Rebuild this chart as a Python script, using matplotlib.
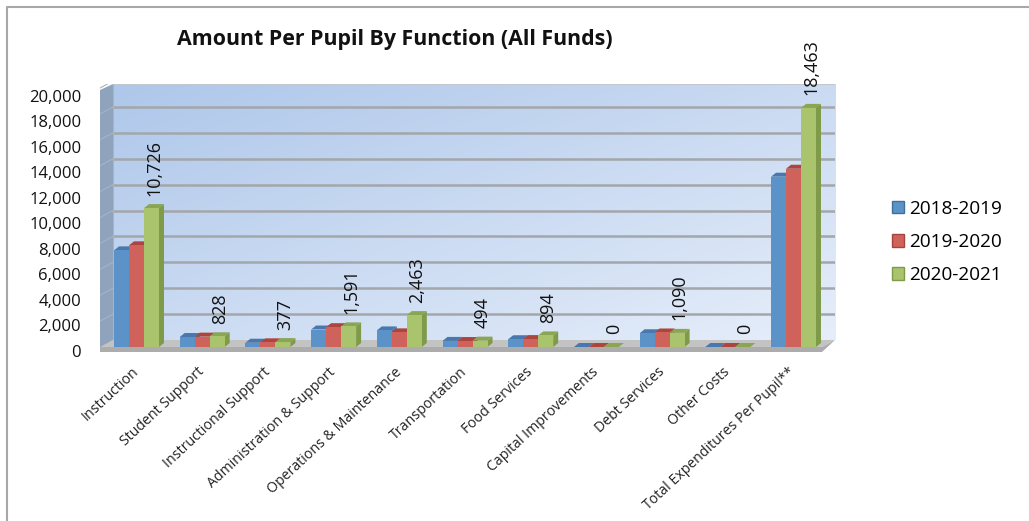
import numpy as np
import matplotlib.pyplot as plt
from matplotlib.patches import Polygon
from matplotlib.lines import Line2D
from matplotlib.transforms import ScaledTranslation

plt.rcParams['font.family'] = ['Open Sans', 'DejaVu Sans']

categories = ['Instruction', 'Student Support', 'Instructional Support',
              'Administration & Support', 'Operations & Maintenance',
              'Transportation', 'Food Services', 'Capital Improvements',
              'Debt Services', 'Other Costs', 'Total Expenditures Per Pupil**']
years = ['2018-2019', '2019-2020', '2020-2021']
values_2018 = [7460, 770, 330, 1350, 1280, 470, 600, 0, 1060, 0, 13150]
values_2019 = [7850, 800, 360, 1530, 1130, 460, 610, 0, 1120, 0, 13765]
values_2020 = [10726, 828, 377, 1591, 2463, 494, 894, 0, 1090, 0, 18463]
y_ticks = list(range(0, 20001, 2000))

front_colors = ['#5b93c9', '#cf625a', '#a9c46c']
top_colors = ['#4878ad', '#ad443e', '#8aa653']
side_colors = ['#47719f', '#9e3f3a', '#7f9a48']
edge_colors = ['#3f6f9f', '#a5443f', '#7f9a48']

# picture scale, pixels per category and per unit of value
px_x = 65.7
px_y = 0.01295
bar_w = 15 / px_x
dx, dy = 5 / px_x, 4 / px_y
wall_dx, wall_dy = 13 / px_x, 7 / px_y

fig = plt.figure(figsize=(10.29, 5.21), dpi=100)
ax = fig.add_axes([100 / 1029, (521 - 352) / 521, 735 / 1029, 268 / 521])
x0 = -36.5 / px_x
x1 = 698.5 / px_x
y0 = -5 / px_y
y1 = 263 / px_y
back_left = x0 + wall_dx
back_floor = wall_dy

# back wall gradient
gx, gy = np.meshgrid(np.linspace(0, 1, 200), np.linspace(0, 1, 120))
g = 0.5 * gx + 0.5 * gy
start = np.array([174, 199, 234]) / 255
end = np.array([230, 238, 250]) / 255
ax.imshow(start + g[..., None] * (end - start), aspect='auto', zorder=1,
          extent=[back_left, x1, back_floor, y1], origin='upper')

# left wall and floor
ax.add_patch(Polygon([[x0, y0 + 3 / px_y], [back_left, back_floor], [back_left, y1],
                      [x0, y1 - 6 / px_y]], color='#8fa3bd', lw=0, zorder=1))
ax.add_patch(Polygon([[x0, 0], [back_left, back_floor], [x1, back_floor],
                      [x1 - wall_dx, 0]], color='#c3c3c3', lw=0, zorder=1))
ax.add_patch(Polygon([[x0, y0], [x0, 0], [x1 - wall_dx, 0], [x1, back_floor],
                      [x1 - wall_dx, y0]], color='#acacac', lw=0, zorder=1))

# gridlines
for v in y_ticks[1:]:
    ax.plot([back_left, x1], [v + wall_dy, v + wall_dy], color='#a3a6aa', lw=1.8, zorder=2)
    ax.plot([x0, back_left], [v, v + wall_dy], color='#a7b3c4', lw=0.8, zorder=2)
ax.plot([back_left, x1], [y1, y1], color='#c4c7cc', lw=1.5, zorder=2)
ax.plot([back_left, back_left], [back_floor, y1], color='#a9b4c4', lw=0.8, zorder=2)

x = np.arange(len(categories))
all_values = [values_2018, values_2019, values_2020]
bars = []
for i, vals in enumerate(all_values):
    z = 3 + i
    pos = x + (i - 1) * bar_w
    b = ax.bar(pos, vals, width=bar_w, color=front_colors[i], edgecolor=edge_colors[i],
               lw=0, zorder=z + 0.5, label=years[i])
    bars.append(b)
    for p, v in zip(pos, vals):
        l, r = p - bar_w / 2, p + bar_w / 2
        ax.add_patch(Polygon([[l, v], [l + dx, v + dy], [r + dx, v + dy], [r, v]],
                             color=top_colors[i], lw=0, zorder=z))
        if v > 0:
            ax.add_patch(Polygon([[r, 0], [r + dx, dy], [r + dx, v + dy], [r, v]],
                                 color=side_colors[i], lw=0, zorder=z))

# data labels only on the last series
for p, v in zip(x + bar_w, values_2020):
    ax.annotate(f'{v:,}', (p, v), xytext=(2, 9), textcoords='offset points',
                rotation=90, ha='center', va='bottom', fontsize=13, color='#111111',
                zorder=10)

ax.set_xlim(x0, x1)
ax.set_ylim(y0, y1)
ax.set_xticks(x)
ax.set_xticklabels(categories, rotation=43, ha='right', va='top', rotation_mode='anchor',
                   fontsize=10.2, color='#222222')
ax.tick_params(axis='x', length=0, pad=9)
# pull the slanted labels back so they end under the group centre
shift = ScaledTranslation(-5 / 100, 0, fig.dpi_scale_trans)
for t in ax.get_xticklabels():
    t.set_transform(t.get_transform() + shift)
ax.set_yticks([])
for s in ax.spines.values():
    s.set_visible(False)

# y tick labels run on a slightly tighter scale than the bars
ax_t = ax.twinx()
ax_t.patch.set_visible(False)
ax_t.set_ylim(-1 / 0.01277, 267 / 0.01277)
ax_t.yaxis.tick_left()
ax_t.set_yticks(y_ticks)
ax_t.set_yticklabels([f'{v:,}' for v in y_ticks], fontsize=12, color='#111111')
ax_t.tick_params(axis='y', length=0, pad=13.5)
for s in ax_t.spines.values():
    s.set_visible(False)

fig.text(395 / 1029, 1 - 40 / 521, 'Amount Per Pupil By Function (All Funds)', ha='center',
         va='center', fontsize=15.4, fontweight='bold', color='#111111')

leg = fig.legend(handles=[b[0] for b in bars], labels=years, loc='upper left',
                 bbox_to_anchor=(888 / 1029, 1 - 196 / 521), frameon=False, fontsize=13.7,
                 handlelength=0.63, handleheight=0.63, handletextpad=0.3, labelspacing=0.8,
                 borderaxespad=0, borderpad=0.2)
for h, c in zip(leg.legend_handles, edge_colors):
    h.set_edgecolor(c)
    h.set_linewidth(1)

# outer chart border, runs off the right and bottom of the picture
fig.add_artist(Line2D([6.5 / 1029, 6.5 / 1029, 1], [0, 1 - 6.5 / 521, 1 - 6.5 / 521],
                      color='#a8a8a8', lw=1.5))

fig.savefig('out.png', dpi=100)
